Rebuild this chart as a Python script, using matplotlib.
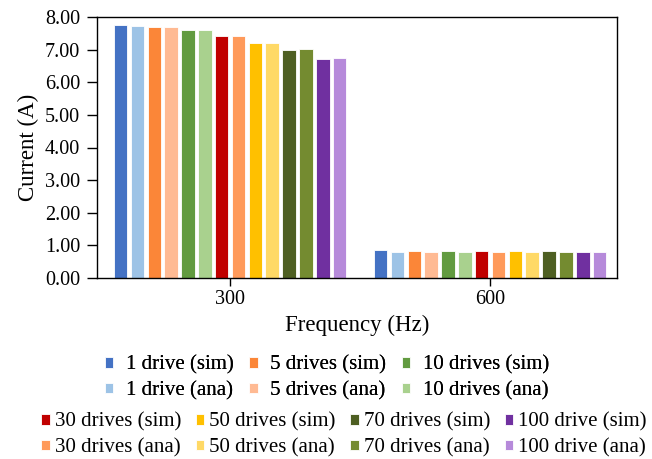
import numpy as np
import matplotlib
matplotlib.use("Agg")
import matplotlib.pyplot as plt

plt.rcParams['font.family'] = ['Liberation Serif', 'DejaVu Serif']

categories = ["300", "600"]
series_labels = [
    "1 drive (sim)", "1 drive (ana)",
    "5 drives (sim)", "5 drives (ana)",
    "10 drives (sim)", "10 drives (ana)",
    "30 drives (sim)", "30 drives (ana)",
    "50 drives (sim)", "50 drives (ana)",
    "70 drives (sim)", "70 drives (ana)",
    "100 drive (sim)", "100 drive (ana)",
]
values_300 = [7.75, 7.72, 7.69, 7.68, 7.61, 7.61, 7.42, 7.43, 7.20, 7.20, 7.00, 7.03, 6.72, 6.75]
values_600 = [0.85, 0.79, 0.83, 0.80, 0.83, 0.79, 0.83, 0.80, 0.83, 0.79, 0.83, 0.79, 0.79, 0.79]
colors = [
    "#4472C4", "#9DC3E6",
    "#FB8638", "#FFBA93",
    "#629B40", "#A9D18E",
    "#C00000", "#FF9A5A",
    "#FFC000", "#FFD966",
    "#4E5F22", "#748B30",
    "#7030A0", "#B68ADA",
]
y_ticks = [0, 1, 2, 3, 4, 5, 6, 7, 8]

fig = plt.figure(figsize=(6.52, 4.59), dpi=100)
ax = fig.add_axes([97/652, 1-278/459, 520/652, 261/459])

x = np.arange(len(categories))
n = len(series_labels)
pitch = 0.0648
width = 0.052
handles = []
for i in range(n):
    offs = (i - (n - 1) / 2) * pitch
    vals = [values_300[i], values_600[i]]
    b = ax.bar(x + offs, vals, width, color=colors[i], edgecolor="white",
               linewidth=0.6, label=series_labels[i], zorder=2)
    handles.append(b)

ax.set_xlim(-0.512, 1.488)
ax.set_ylim(0, 8)
ax.set_xticks(x)
ax.set_xticklabels(categories)
ax.set_yticks(y_ticks)
ax.set_yticklabels([f"{v:.2f}" for v in y_ticks])
ax.tick_params(axis='y', direction='out', length=7, width=1, pad=5, labelsize=14.5)
ax.tick_params(axis='x', direction='out', length=6, width=1, pad=3, labelsize=14.5)
for s in ax.spines.values():
    s.set_linewidth(1.0)
    s.set_color("black")

ax.set_ylabel("Current (A)", fontsize=16.5, labelpad=4)
ax.set_xlabel("Frequency (Hz)", fontsize=16.5, labelpad=4)

# first legend: 1, 5, 10 drives
idx1 = [0, 1, 2, 3, 4, 5]
leg1 = fig.legend([handles[i] for i in idx1], [series_labels[i] for i in idx1],
                  ncol=3, loc='center', bbox_to_anchor=(327/652, 1-378/459),
                  frameon=False, fontsize=15, handlelength=0.4, handleheight=0.4,
                  handletextpad=0.6, columnspacing=0.75, labelspacing=0.3,
                  borderpad=0, borderaxespad=0)
idx2 = list(range(6, 14))
leg2 = fig.legend([handles[i] for i in idx2], [series_labels[i] for i in idx2],
                  ncol=4, loc='center', bbox_to_anchor=(344/652, 1-435/459),
                  frameon=False, fontsize=15, handlelength=0.4, handleheight=0.4,
                  handletextpad=0.25, columnspacing=0.7, labelspacing=0.3,
                  borderpad=0, borderaxespad=0)
fig.add_artist(leg1)

fig.savefig("out.png", dpi=100)
